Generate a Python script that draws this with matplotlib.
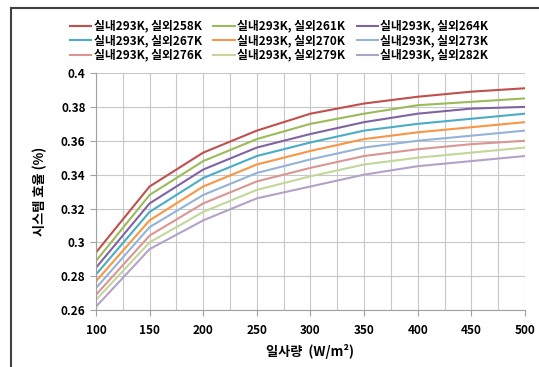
import matplotlib
matplotlib.use('Agg')
import matplotlib.pyplot as plt
from matplotlib.lines import Line2D
from matplotlib.ticker import MultipleLocator

plt.rcParams['font.family'] = ['Noto Sans CJK KR', 'DejaVu Sans']

# 일사량 (W/m2)
irradiance = [100, 150, 200, 250, 300, 350, 400, 450, 500]

labels = ['실내293K, 실외258K', '실내293K, 실외261K', '실내293K, 실외264K',
          '실내293K, 실외267K', '실내293K, 실외270K', '실내293K, 실외273K',
          '실내293K, 실외276K', '실내293K, 실외279K', '실내293K, 실외282K']

eff_258 = [0.294, 0.333, 0.353, 0.366, 0.376, 0.382, 0.386, 0.389, 0.391]
eff_261 = [0.289, 0.328, 0.348, 0.361, 0.370, 0.376, 0.381, 0.383, 0.385]
eff_264 = [0.285, 0.323, 0.343, 0.356, 0.364, 0.371, 0.376, 0.379, 0.380]
eff_267 = [0.281, 0.318, 0.338, 0.351, 0.359, 0.366, 0.370, 0.373, 0.376]
eff_270 = [0.277, 0.313, 0.333, 0.346, 0.354, 0.361, 0.365, 0.368, 0.371]
eff_273 = [0.273, 0.309, 0.328, 0.341, 0.349, 0.356, 0.360, 0.363, 0.366]
eff_276 = [0.269, 0.304, 0.323, 0.336, 0.344, 0.351, 0.355, 0.358, 0.360]
eff_279 = [0.266, 0.300, 0.318, 0.331, 0.339, 0.346, 0.350, 0.353, 0.356]
eff_282 = [0.262, 0.296, 0.313, 0.326, 0.333, 0.340, 0.345, 0.348, 0.351]

series = [eff_258, eff_261, eff_264, eff_267, eff_270,
          eff_273, eff_276, eff_279, eff_282]
colors = ['#C0504D', '#9BBB59', '#8064A2', '#4BACC6', '#F79646',
          '#95B3D7', '#D99694', '#C3D69B', '#B3A2C7']

fig = plt.figure(figsize=(5.39, 3.67), dpi=100)
ax = fig.add_axes([0.178, 0.155, 0.796, 0.646])

lines = []
for vals, lab, c in zip(series, labels, colors):
    ln, = ax.plot(irradiance, vals, color=c, linewidth=1.5, label=lab)
    lines.append(ln)

ax.set_xlim(100, 500)
ax.set_ylim(0.26, 0.4)
ax.xaxis.set_major_locator(MultipleLocator(50))
ax.xaxis.set_minor_locator(MultipleLocator(25))
ax.yaxis.set_major_locator(MultipleLocator(0.02))
ax.set_yticklabels([f'{v:g}' for v in ax.get_yticks()])
ax.grid(True, which='both', color='#C8C8C8', linewidth=0.8)
ax.tick_params(axis='x', which='minor', length=0)
ax.tick_params(axis='x', which='major', length=4, color='#A0A0A0', pad=6)
ax.tick_params(axis='y', length=4, color='#A0A0A0', direction='out')
for lab in ax.get_xticklabels() + ax.get_yticklabels():
    lab.set_fontweight('bold')
    lab.set_fontsize(8.5)
for s in ['top', 'right']:
    ax.spines[s].set_visible(False)
for s in ['left', 'bottom']:
    ax.spines[s].set_color('#A0A0A0')

ax.set_xlabel('일사량  (W/m²)', fontsize=9.5, fontweight='bold', labelpad=5)
ax.set_ylabel('시스템 효율 (%)', fontsize=9.5, fontweight='bold', labelpad=10)

# legend fills row by row, like the original
order = [0, 3, 6, 1, 4, 7, 2, 5, 8]
fig.legend([lines[i] for i in order], [labels[i] for i in order],
           loc='upper center', bbox_to_anchor=(0.518, 0.975), ncol=3,
           frameon=False, prop={'weight': 'bold', 'size': 8.5},
           handlelength=1.8, handletextpad=0.2, columnspacing=1.0,
           labelspacing=0.12)

# outer border (top and left)
fig.add_artist(Line2D([11 / 539, 1.0], [1 - 8 / 367, 1 - 8 / 367],
                      color='#404040', linewidth=1.5))
fig.add_artist(Line2D([11 / 539, 11 / 539], [0, 1 - 8 / 367],
                      color='#404040', linewidth=1.5))

fig.savefig('out.png', dpi=100)
